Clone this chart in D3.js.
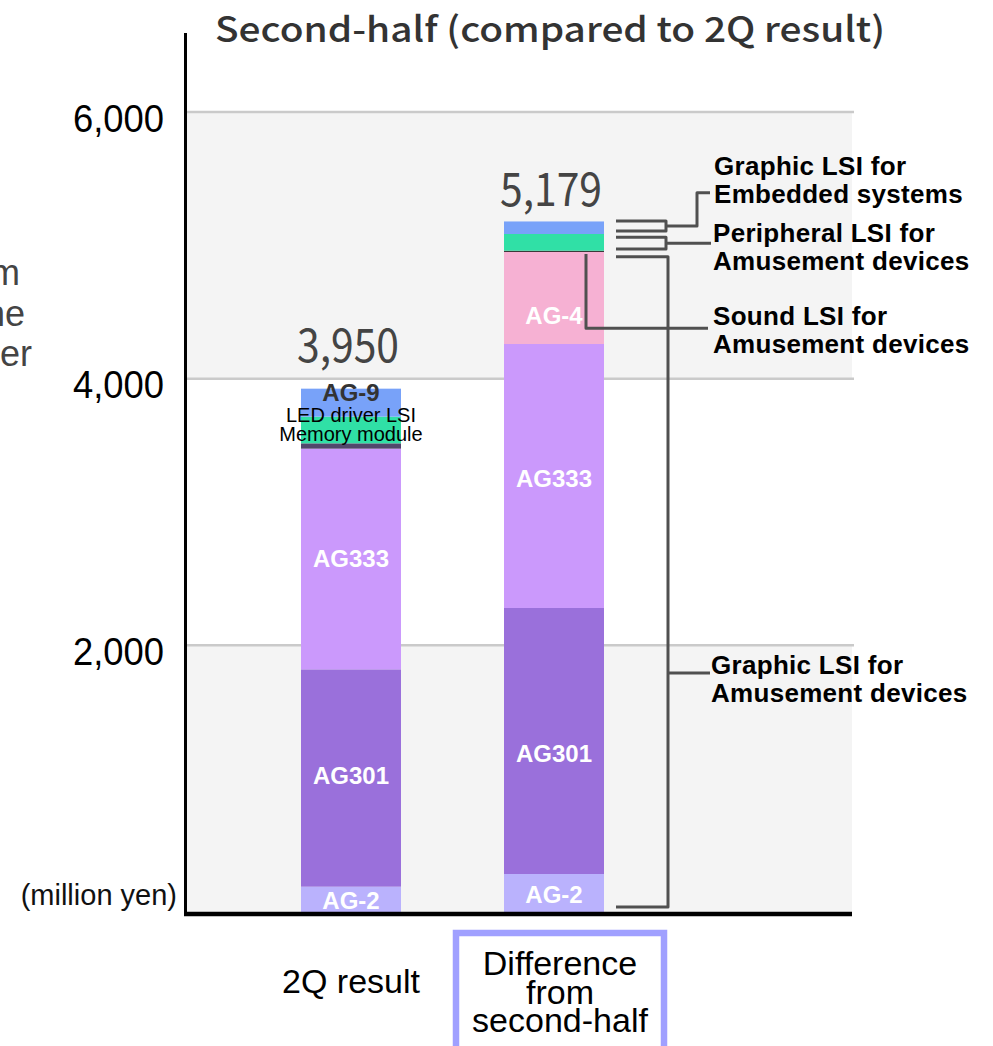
<!DOCTYPE html>
<html><head><meta charset="utf-8">
<script src="https://cdn.jsdelivr.net/npm/d3@7"></script>
<style>body{margin:0;background:#fff}svg{display:block}</style>
</head><body>
<svg id="c" width="993" height="1046"></svg>
<script>
// ---------- data ----------
const categories = ["2Q result", "Difference from second-half"];
const categoryLines = [["2Q result"], ["Difference", "from", "second-half"]];
const totalLabels = ["3,950", "5,179"];
const totals = [3950, 5179];
const yTicks = [2000, 4000, 6000];

const bar1Names  = ["AG-2", "AG301", "AG333", "Memory module", "LED driver LSI", "AG-9"];
const bar1Values = [190, 1630, 1655, 40, 200, 210];
const bar2Names  = ["AG-2", "AG301", "AG333", "AG-4", "", "", ""];
const bar2Values = [285, 1995, 1980, 690, 10, 125, 94];

const sideLabels = [
  ["Graphic LSI for", "Embedded systems"],
  ["Peripheral LSI for", "Amusement devices"],
  ["Sound LSI for", "Amusement devices"],
  ["Graphic LSI for", "Amusement devices"]
];
// bracket ranges (million yen)
const bracketEmbedded   = [5183, 5108];
const bracketPeripheral = [5060, 4972];
const bracketGraphicAm  = [4915, 37];
const soundLeader       = [4935, 4378];
const embeddedLabelAt   = 5395;
const graphicAmLabelAt  = 1793;

// ---------- styles ----------
const bar1Colors = ["#bab2fd", "#9a70db", "#cb99fc", "#52466c", "#30e0a6", "#78a2f9"];
const bar2Colors = ["#bab2fd", "#9a70db", "#cb99fc", "#f6b1d3", "#3a3a3a", "#30e0a6", "#78a2f9"];
const bar1LabelStyle = [
  {fill:"#fff", w:"bold", s:24, dy:1},
  {fill:"#fff", w:"bold", s:24, dy:-3},
  {fill:"#fff", w:"bold", s:24, dy:-1},
  {fill:"#000", w:"normal", s:20, dy:-12},
  {fill:"#000", w:"normal", s:20, dy:-15},
  {fill:"#333", w:"bold", s:24, dy:-10}
];
const bar2LabelStyle = [
  {fill:"#fff", w:"bold", s:24, dy:1},
  {fill:"#fff", w:"bold", s:24, dy:12},
  {fill:"#fff", w:"bold", s:24, dy:2},
  {fill:"#fff", w:"bold", s:24, dy:17}
];
const totalGap = [23, 15];

const svg = d3.select("#c");
const plotL = 187, plotR = 852, plotTop = 33;
const y = d3.scaleLinear().domain([0, 6000]).range([912, 112]);
const x = d3.scalePoint().domain(categories).range([351, 554]);
const barW = 100;

// background bands
const bands = [[0, 2000], [4000, 6000]];
svg.selectAll("rect.band").data(bands).enter().append("rect")
  .attr("x", plotL).attr("width", plotR - plotL)
  .attr("y", d => y(d[1])).attr("height", d => y(d[0]) - y(d[1]))
  .attr("fill", "#f4f4f4");

// gridlines
svg.selectAll("line.grid").data(yTicks).enter().append("line")
  .attr("x1", plotL).attr("x2", plotR + 2)
  .attr("y1", d => y(d)).attr("y2", d => y(d))
  .attr("stroke", "#cacaca").attr("stroke-width", 2.5);

// y axis tick labels via d3 axis
const yAxis = d3.axisLeft(y).tickValues(yTicks).tickSize(0).tickPadding(0)
  .tickFormat(d3.format(","));
const gA = svg.append("g").attr("transform", "translate(164,0)").call(yAxis);
gA.select(".domain").remove();
gA.selectAll("text")
  .attr("font-family", "Liberation Sans, Arial, sans-serif")
  .attr("font-size", 39).attr("fill", "#000")
  .attr("dy", 19).attr("x", 0)
  .attr("text-anchor", "end")
  .attr("textLength", 91).attr("lengthAdjust", "spacingAndGlyphs");

// bars
function drawBar(ci, names, values, colors, lstyles) {
  let cum = 0;
  const segs = values.map((v, i) => { const s = {name: names[i], y0: cum, y1: cum + v, i}; cum += v; return s; });
  const cx = x(categories[ci]);
  const g = svg.append("g");
  g.selectAll("rect").data(segs).enter().append("rect")
    .attr("x", cx - barW / 2).attr("width", barW)
    .attr("y", d => y(d.y1)).attr("height", d => y(d.y0) - y(d.y1))
    .attr("fill", d => colors[d.i]);
  g.selectAll("text").data(segs.filter(d => d.name && lstyles[d.i])).enter().append("text")
    .attr("x", cx)
    .attr("y", d => (y(d.y0) + y(d.y1)) / 2 + lstyles[d.i].s * 0.36 + lstyles[d.i].dy)
    .attr("text-anchor", "middle")
    .attr("font-family", "Liberation Sans, Arial, sans-serif")
    .attr("font-size", d => lstyles[d.i].s)
    .attr("font-weight", d => lstyles[d.i].w)
    .attr("fill", d => lstyles[d.i].fill)
    .text(d => d.name);
}
drawBar(0, bar1Names, bar1Values, bar1Colors, bar1LabelStyle);
drawBar(1, bar2Names, bar2Values, bar2Colors, bar2LabelStyle);

// total labels
svg.selectAll("text.tot").data(totals).enter().append("text")
  .attr("x", (d, i) => x(categories[i]) - 3)
  .attr("y", (d, i) => y(d) - totalGap[i])
  .attr("text-anchor", "middle")
  .attr("font-family", "Noto Sans CJK JP, sans-serif")
  .attr("font-size", 46).attr("fill", "#444")
  .attr("textLength", 102).attr("lengthAdjust", "spacingAndGlyphs")
  .text((d, i) => totalLabels[i]);

// axes lines
svg.append("line").attr("x1", 185.5).attr("x2", 185.5).attr("y1", plotTop).attr("y2", y(0) + 4)
  .attr("stroke", "#000").attr("stroke-width", 3);
svg.append("line").attr("x1", 184).attr("x2", plotR).attr("y1", y(0) + 2).attr("y2", y(0) + 2)
  .attr("stroke", "#000").attr("stroke-width", 4.5);

// title
svg.append("text").attr("x", 215).attr("y", 41.5)
  .attr("font-family", "Noto Sans CJK JP, sans-serif").attr("font-size", 35).attr("font-weight", 500)
  .attr("fill", "#333")
  .attr("textLength", 670).attr("lengthAdjust", "spacingAndGlyphs")
  .text("Second-half (compared to 2Q result)");

// cut-off left text
const leftBits = [["m", 20, 285], ["ne", 25, 326], ["er", 32, 366]];
svg.selectAll("text.lb").data(leftBits).enter().append("text")
  .attr("x", d => d[1]).attr("y", d => d[2]).attr("text-anchor", "end")
  .attr("font-family", "Liberation Sans, Arial, sans-serif").attr("font-size", 36).attr("fill", "#444")
  .text(d => d[0]);

// unit
svg.append("text").attr("x", 177).attr("y", 905).attr("text-anchor", "end")
  .attr("font-family", "Liberation Sans, Arial, sans-serif").attr("font-size", 29).attr("fill", "#111")
  .text("(million yen)");

// category labels
const catFont = "Liberation Sans, Arial, sans-serif";
svg.append("rect").attr("x", 456).attr("y", 933).attr("width", 208).attr("height", 140)
  .attr("fill", "#fff").attr("stroke", "#a0a0ff").attr("stroke-width", 6.5);
categoryLines.forEach((lines, i) => {
  const cx = i === 0 ? x(categories[0]) : 560;
  const y0 = i === 0 ? 993 : 975;
  lines.forEach((t, j) => {
    svg.append("text").attr("x", cx).attr("y", y0 + j * 28.5).attr("text-anchor", "middle")
      .attr("font-family", catFont).attr("font-size", 34).attr("fill", "#000").text(t);
  });
});

// annotation brackets
const ann = svg.append("g").attr("fill", "none").attr("stroke", "#505050").attr("stroke-width", 3)
  .attr("stroke-linejoin", "round");
const barR = x(categories[1]) + barW / 2;
const bx0 = barR + 12, bx1 = barR + 62;
function bracket(r, xEnd) {
  ann.append("path").attr("d", `M${bx0},${y(r[0])}H${xEnd}V${y(r[1])}H${bx0}`);
  return (y(r[0]) + y(r[1])) / 2;
}
const labX = 712;
const m1 = bracket(bracketEmbedded, bx1);
ann.append("path").attr("d", `M${bx1},${m1}H${barR + 93}V${y(embeddedLabelAt)}H${labX - 2}`);
const m2 = bracket(bracketPeripheral, bx1);
ann.append("path").attr("d", `M${bx1},${m2}H${labX - 1}`);
bracket(bracketGraphicAm, bx1 + 2);
ann.append("path").attr("d", `M${bx1 + 2},${y(graphicAmLabelAt)}H${labX - 2}`);
ann.append("path").attr("d", `M${barR - 18},${y(soundLeader[0])}V${y(soundLeader[1])}H${labX - 4}`);

const labelFirstBaselines = [y(embeddedLabelAt) - 18, m2 - 1, y(soundLeader[1]) - 3, y(graphicAmLabelAt) + 1];
const labelXs = [714, 713, 713, 711];
sideLabels.forEach((lines, i) => {
  lines.forEach((t, j) => {
    svg.append("text").attr("x", labelXs[i]).attr("y", labelFirstBaselines[i] + j * 28)
      .attr("font-family", "Liberation Sans, Arial, sans-serif").attr("font-weight", "bold")
      .attr("font-size", 26).attr("fill", "#000").attr("letter-spacing", 0.3).text(t);
  });
});
</script>
</body></html>
